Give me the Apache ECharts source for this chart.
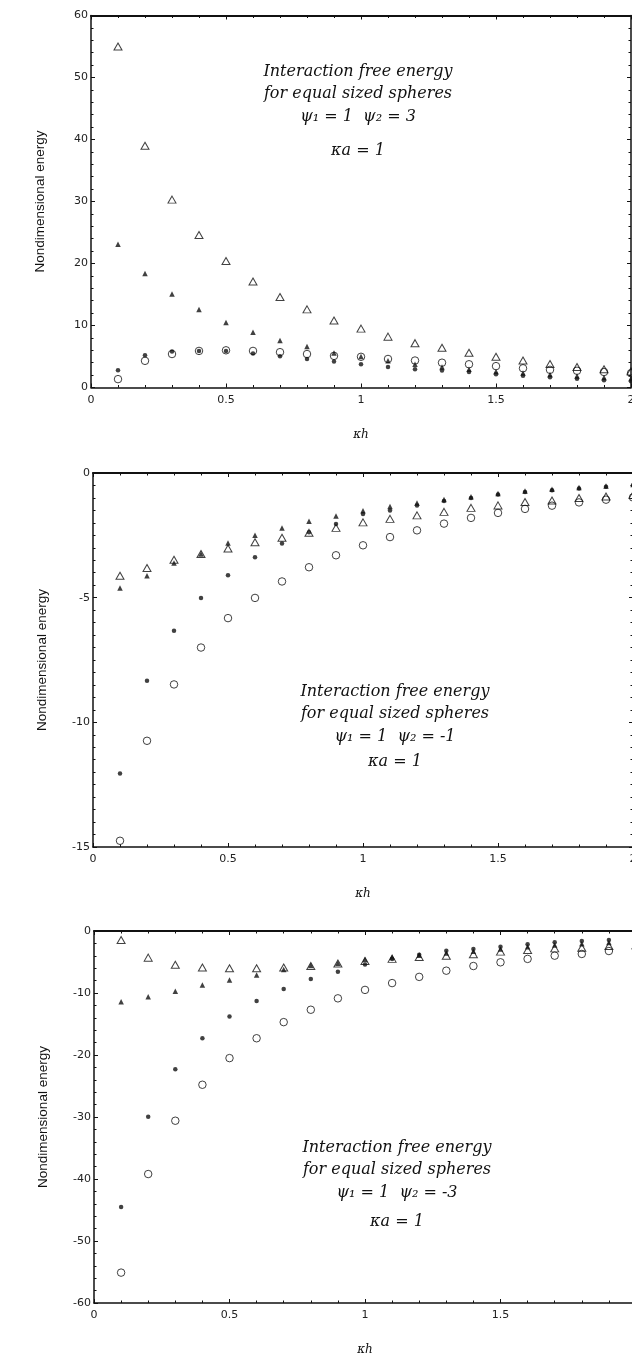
<!DOCTYPE html>
<html><head><meta charset="utf-8">
<script src="https://cdn.jsdelivr.net/npm/echarts@6/dist/echarts.min.js"></script>
<style>html,body{margin:0;padding:0;background:#fff}#c{width:632px;height:1354px}</style>
</head><body><div id="c"></div>
<script>
// x values (κh)
const kh = [0.1,0.2,0.3,0.4,0.5,0.6,0.7,0.8,0.9,1.0,1.1,1.2,1.3,1.4,1.5,1.6,1.7,1.8,1.9,2.0];

// Panel 1: ψ1 = 1, ψ2 = 3
const p1OpenTri   = [55, 39, 30.3, 24.6, 20.4, 17.1, 14.6, 12.6, 10.8, 9.5, 8.2, 7.15, 6.4, 5.6, 4.95, 4.35, 3.8, 3.3, 2.95, 2.6];
const p1FilledTri = [23.1, 18.4, 15.1, 12.6, 10.5, 8.9, 7.6, 6.6, 5.55, 5.0, 4.3, 3.75, 3.3, 2.95, 2.6, 2.35, 2.1, 1.85, 1.6, 1.45];
const p1FilledCir = [2.8, 5.2, 5.8, 5.9, 5.9, 5.5, 5.05, 4.6, 4.2, 3.75, 3.3, 2.95, 2.75, 2.5, 2.15, 1.9, 1.65, 1.4, 1.15, 1.0];
const p1OpenCir   = [1.35, 4.3, 5.4, 5.9, 6.0, 5.9, 5.7, 5.4, 5.1, 4.95, 4.6, 4.35, 4.0, 3.75, 3.45, 3.1, 2.85, 2.7, 2.5, 2.3];

// Panel 2: ψ1 = 1, ψ2 = -1
const p2OpenTri   = [-4.12, -3.81, -3.48, -3.25, -3.03, -2.78, -2.6, -2.4, -2.2, -1.98, -1.84, -1.7, -1.56, -1.4, -1.3, -1.16, -1.1, -1.0, -0.94, -0.88];
const p2FilledTri = [-4.61, -4.12, -3.61, -3.25, -2.81, -2.5, -2.21, -1.94, -1.72, -1.51, -1.34, -1.2, -1.06, -0.95, -0.82, -0.72, -0.65, -0.58, -0.52, -0.46];
const p2FilledCir = [-12.05, -8.33, -6.33, -5.01, -4.1, -3.38, -2.83, -2.38, -2.05, -1.64, -1.5, -1.3, -1.12, -1.0, -0.86, -0.76, -0.69, -0.62, -0.55, -0.49];
const p2OpenCir   = [-14.75, -10.74, -8.48, -7.0, -5.82, -5.01, -4.35, -3.78, -3.3, -2.9, -2.57, -2.3, -2.03, -1.8, -1.6, -1.44, -1.31, -1.18, -1.07, -0.98];

// Panel 3: ψ1 = 1, ψ2 = -3
const p3OpenTri   = [-1.45, -4.3, -5.45, -5.9, -6.0, -6.0, -5.9, -5.65, -5.25, -4.85, -4.5, -4.2, -4.0, -3.76, -3.33, -3.06, -2.8, -2.7, -2.42, -2.3];
const p3FilledTri = [-11.4, -10.6, -9.7, -8.7, -7.9, -7.1, -6.2, -5.55, -5.2, -4.6, -4.2, -3.9, -3.55, -3.25, -2.9, -2.55, -2.25, -2.05, -1.85, -1.7];
const p3FilledCir = [-44.5, -29.95, -22.3, -17.3, -13.8, -11.3, -9.35, -7.74, -6.56, -5.4, -4.5, -3.85, -3.2, -2.9, -2.53, -2.15, -1.83, -1.6, -1.45, -1.35];
const p3OpenCir   = [-55.1, -39.2, -30.6, -24.8, -20.5, -17.3, -14.7, -12.7, -10.86, -9.5, -8.4, -7.4, -6.4, -5.65, -5.05, -4.5, -3.98, -3.7, -3.23, -2.9];

// axis ranges / tick steps
const xRange = [0, 2, 0.5];
const yRanges = [[0, 60, 10], [-15, 0, 5], [-60, 0, 10]];
const yMinorSplits = [5, 10, 5];
const yAxisTitle = 'Nondimensional energy';
const xAxisTitle = 'κh';
const notes = [
  ['Interaction free energy', 'for equal sized spheres', 'ψ₁ = 1  ψ₂ = 3', 'κa = 1'],
  ['Interaction free energy', 'for equal sized spheres', 'ψ₁ = 1  ψ₂ = -1', 'κa = 1'],
  ['Interaction free energy', 'for equal sized spheres', 'ψ₁ = 1  ψ₂ = -3', 'κa = 1']
];

const panels = [
  [p1OpenTri, p1FilledTri, p1FilledCir, p1OpenCir],
  [p2OpenTri, p2FilledTri, p2FilledCir, p2OpenCir],
  [p3OpenTri, p3FilledTri, p3FilledCir, p3OpenCir]
];

// layout
const grids = [
  {left: 91, top: 15.5, width: 540, height: 372},
  {left: 93, top: 473, width: 540, height: 374},
  {left: 94, top: 931, width: 542, height: 372}
];
const noteCenters = [[358, [72, 94, 117, 151]], [395, [692, 714, 737, 762]], [397, [1148, 1170, 1193, 1222]]];

const lineStyle = {color: '#111', width: 1.5};
const tickLab = {color: '#222', fontFamily: 'DejaVu Sans', fontSize: 11};

const xAxes = [], yAxes = [], series = [], graphics = [];
grids.forEach((g, i) => {
  xAxes.push({
    gridIndex: i, type: 'value', min: xRange[0], max: xRange[1], interval: xRange[2], position: 'bottom',
    axisLine: {show: true, onZero: false, lineStyle},
    axisTick: {show: true, inside: true, length: 4, lineStyle: {color: '#111'}},
    minorTick: {show: true, splitNumber: 5, length: 2.5, lineStyle: {color: '#111'}},
    splitLine: {show: false},
    axisLabel: Object.assign({margin: 7, formatter: v => String(v)}, tickLab),
    name: xAxisTitle, nameLocation: 'middle', nameGap: 41,
    nameTextStyle: {fontFamily: 'DejaVu Serif', fontStyle: 'italic', fontSize: 12, color: '#111'}
  });
  xAxes.push({
    gridIndex: i, type: 'value', min: xRange[0], max: xRange[1], interval: xRange[2], position: 'top',
    axisLine: {show: true, onZero: false, lineStyle: {color: '#111', width: 2}},
    axisTick: {show: true, inside: true, length: 4, lineStyle: {color: '#111'}},
    minorTick: {show: true, splitNumber: 5, length: 2.5, lineStyle: {color: '#111'}},
    splitLine: {show: false}, axisLabel: {show: false}
  });
  const yr = yRanges[i];
  yAxes.push({
    gridIndex: i, type: 'value', min: yr[0], max: yr[1], interval: yr[2], position: 'left',
    axisLine: {show: true, onZero: false, lineStyle},
    axisTick: {show: true, inside: true, length: 4, lineStyle: {color: '#111'}},
    minorTick: {show: true, splitNumber: yMinorSplits[i], length: 2.5, lineStyle: {color: '#111'}},
    splitLine: {show: false},
    axisLabel: Object.assign({margin: 3}, tickLab),
    name: yAxisTitle, nameLocation: 'middle', nameGap: 44,
    nameTextStyle: {fontFamily: 'Liberation Sans', fontSize: 13.5, color: '#111'}
  });
  yAxes.push({
    gridIndex: i, type: 'value', min: yr[0], max: yr[1], interval: yr[2], position: 'right',
    axisLine: {show: true, onZero: false, lineStyle},
    axisTick: {show: true, inside: true, length: 4, lineStyle: {color: '#111'}},
    minorTick: {show: true, splitNumber: yMinorSplits[i], length: 2.5, lineStyle: {color: '#111'}},
    splitLine: {show: false}, axisLabel: {show: false}
  });
  const [oT, fT, fC, oC] = panels[i];
  const mk = (arr) => kh.map((x, j) => [x, arr[j]]);
  const base = {type: 'scatter', xAxisIndex: 2 * i, yAxisIndex: 2 * i, silent: true, animation: false};
  series.push(Object.assign({}, base, {name: 'open triangle', data: mk(oT), symbol: 'triangle', symbolSize: [8, 7],
    itemStyle: {color: 'rgba(255,255,255,0)', borderColor: '#111', borderWidth: 1}}));
  series.push(Object.assign({}, base, {name: 'open circle', data: mk(oC), symbol: 'circle', symbolSize: 7.5,
    itemStyle: {color: 'rgba(255,255,255,0)', borderColor: '#111', borderWidth: 1}}));
  series.push(Object.assign({}, base, {name: 'filled triangle', data: mk(fT), symbol: 'triangle', symbolSize: [5.5, 5.5],
    itemStyle: {color: '#111'}}));
  series.push(Object.assign({}, base, {name: 'filled circle', data: mk(fC), symbol: 'circle', symbolSize: 4.5,
    itemStyle: {color: '#111'}}));

  const [cx, ys] = noteCenters[i];
  notes[i].forEach((t, k) => {
    graphics.push({type: 'text', x: cx, y: ys[k], silent: true,
      style: {text: t, font: 'italic 16px "DejaVu Serif"', fill: '#111', textAlign: 'center', textVerticalAlign: 'middle'}});
  });
});

const chart = echarts.init(document.getElementById('c'), null, {renderer: 'canvas'});
chart.setOption({
  backgroundColor: '#fff',
  animation: false,
  grid: grids.map(g => Object.assign({containLabel: false, outerBoundsMode: 'none'}, g)),
  xAxis: xAxes, yAxis: yAxes, series, graphic: graphics
});
</script></body></html>
